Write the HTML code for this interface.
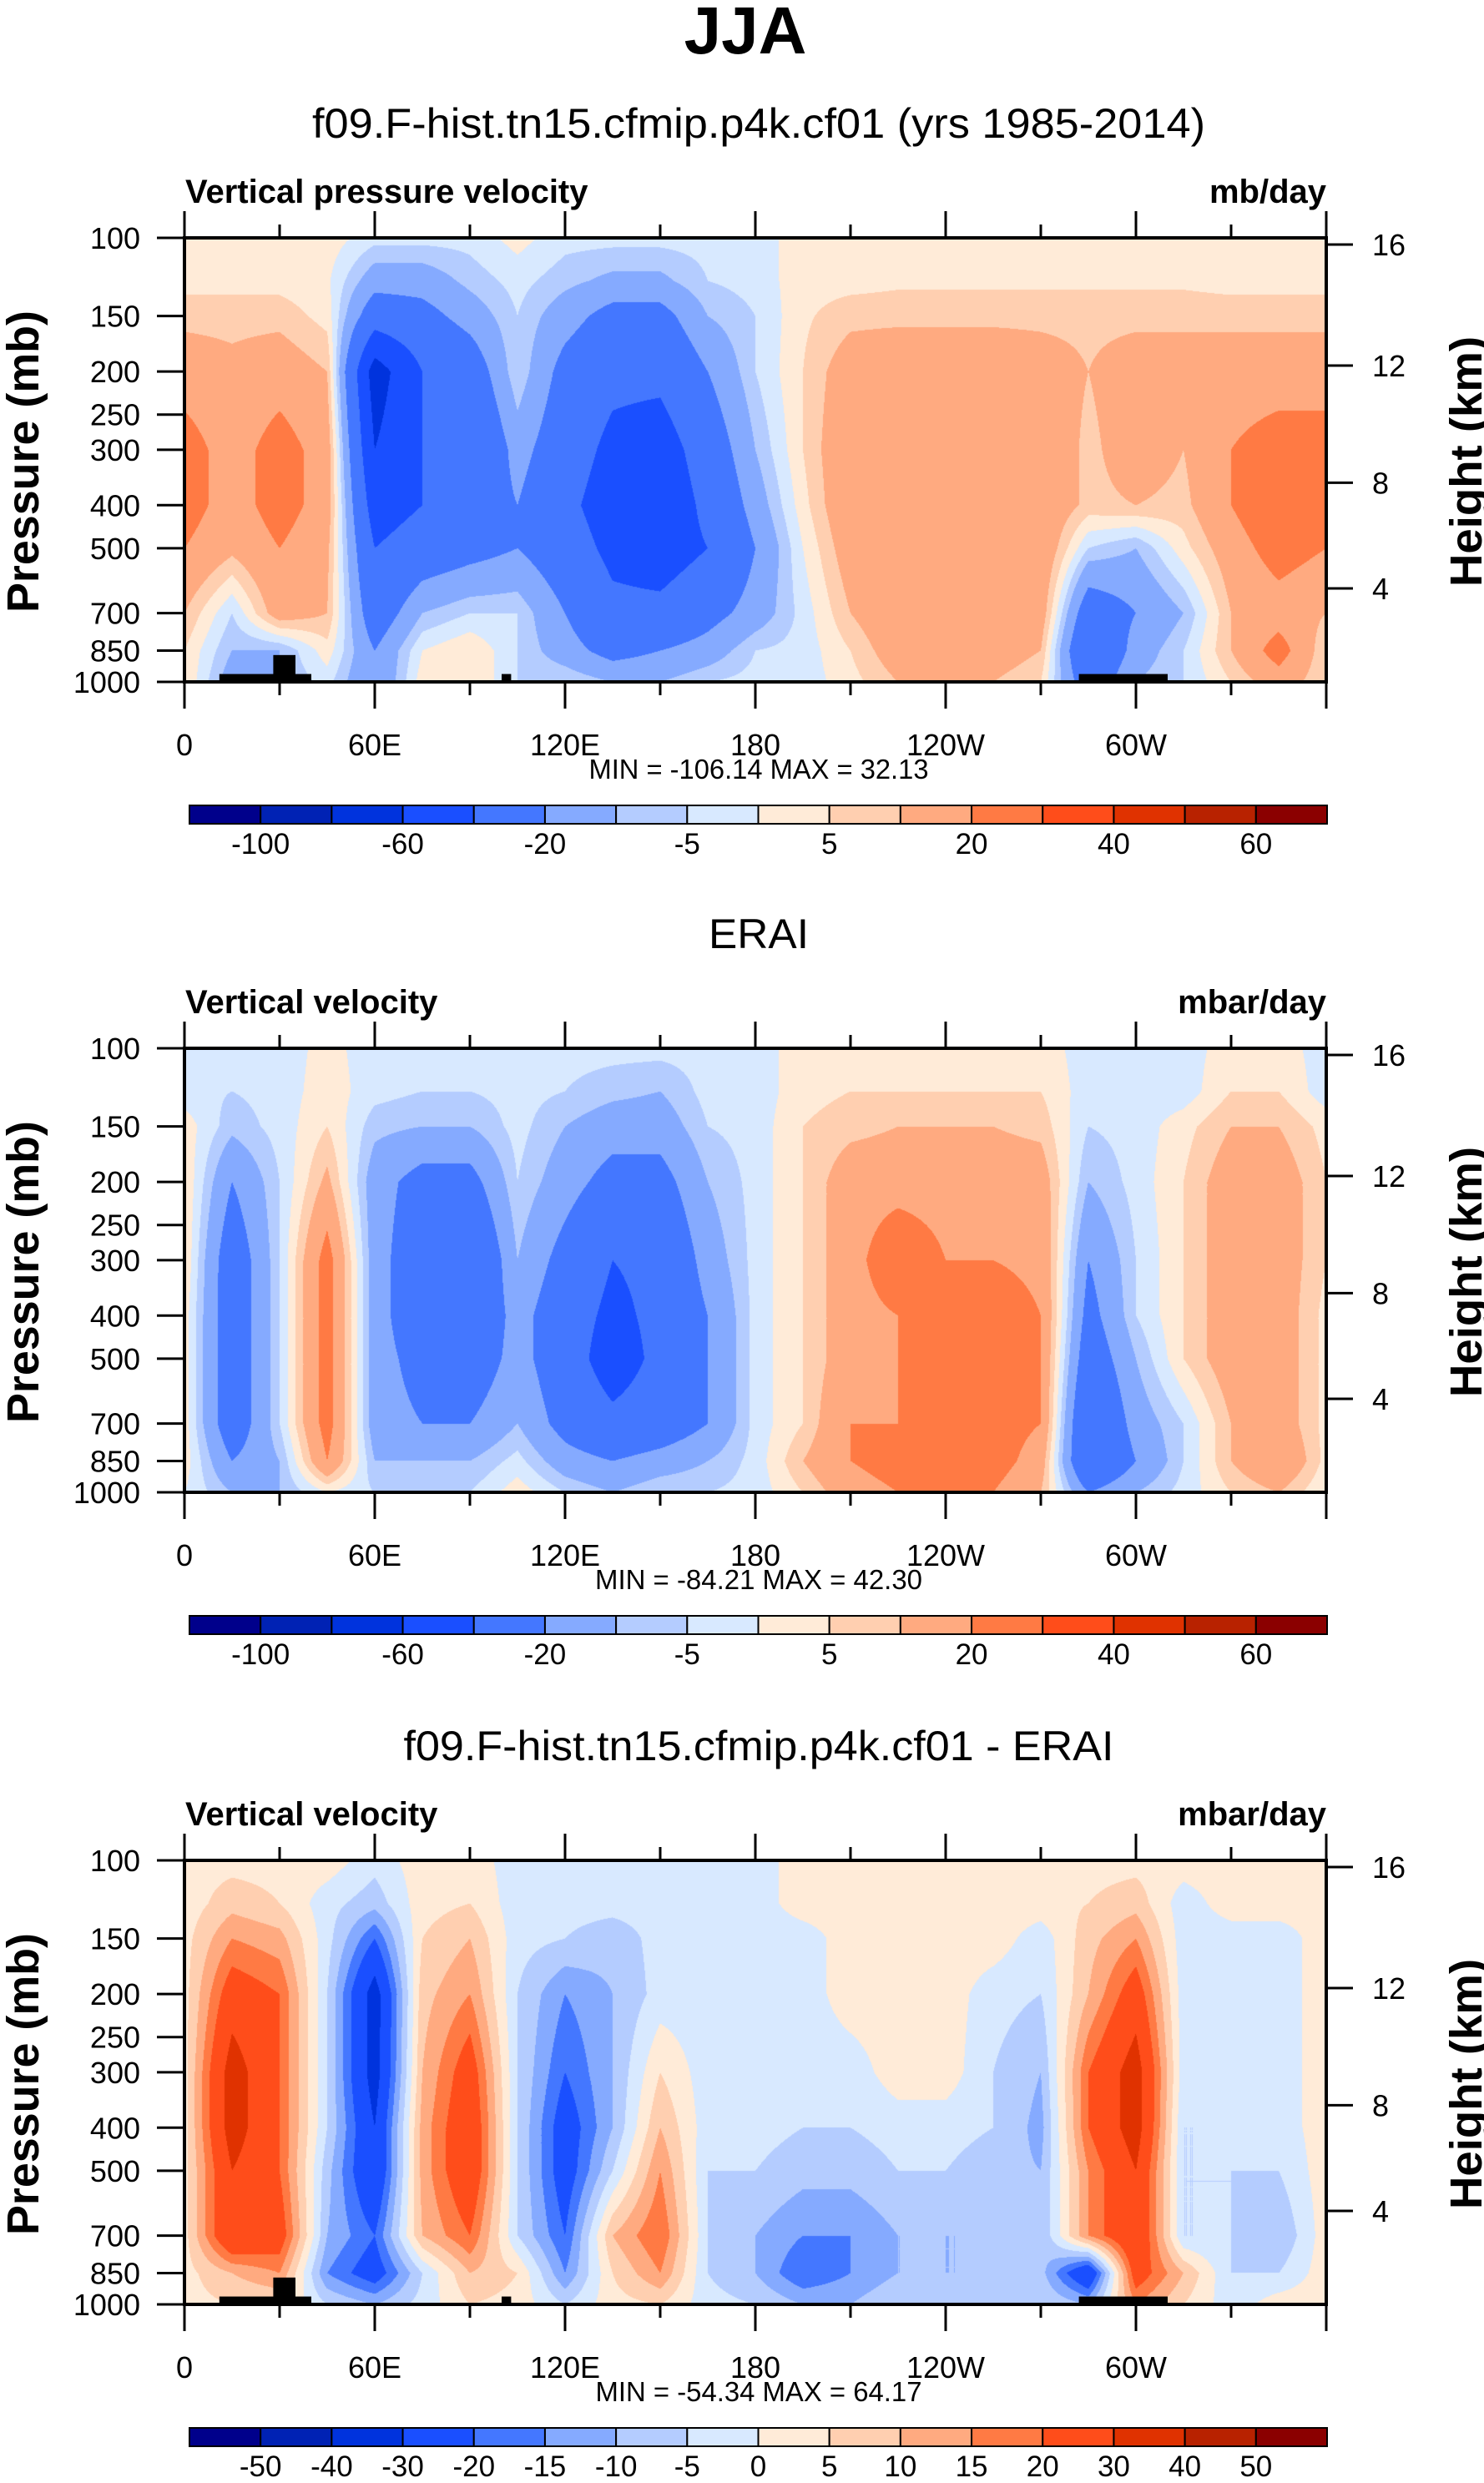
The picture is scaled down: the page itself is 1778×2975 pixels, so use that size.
<!DOCTYPE html>
<html><head><meta charset="utf-8"><style>
html,body{margin:0;padding:0;background:#fff;}
#wrap{position:relative;width:1778px;height:2975px;overflow:hidden;}
canvas{position:absolute;}
svg{position:absolute;left:0;top:0;}
text{font-family:"Liberation Sans",sans-serif;fill:#000;}
</style></head><body>
<div id="wrap">
<canvas id="c0" width="1368" height="532" style="left:221px;top:285px"></canvas>
<canvas id="c1" width="1368" height="532" style="left:221px;top:1256px"></canvas>
<canvas id="c2" width="1368" height="532" style="left:221px;top:2229px"></canvas>
<svg id="s" width="1778" height="2975" xmlns="http://www.w3.org/2000/svg">
<text x="893" y="64" text-anchor="middle" font-size="80" font-weight="bold">JJA</text>
</svg>
</div>
<script>
// ---- data ----
const lons = [0,15,30,45,60,75,90,105,120,135,150,165,180,195,210,225,240,255,270,285,300,315,330,345,360];
const levels = [100,125,150,200,300,400,500,700,850,1000];
const xTickLabels = ["0","60E","120E","180","120W","60W"];
const xTickLons = [0,60,120,180,240,300];
const pTicks = [100,150,200,250,300,400,500,700,850,1000];
const zTicks = [4,8,12,16];
const zTickP = [616,356,193.9,103.5];
const bounds12 = [-100,-80,-60,-40,-20,-10,-5,0,5,10,20,30,40,50,60];
const barLabels12 = ["-100","","-60","","-20","","-5","","5","","20","","40","","60"];
const bounds3 = [-50,-40,-30,-20,-15,-10,-5,0,5,10,15,20,30,40,50];
const barLabels3 = ["-50","-40","-30","-20","-15","-10","-5","0","5","10","15","20","30","40","50"];
const colors = ["#00008B","#0022B4","#0033DD","#1A4FFF","#4477FF","#85AAFF","#B4CCFF","#D8E9FF","#FFEBD8","#FFCFB0","#FFAA80","#FF7A44","#FF4D1A","#E03200","#B82200","#8B0000"];
const model = [
[3,3,3,3,-3,-3,-3,2,-3,-3,-3,-3,-2,2,3,3,3,3,3,3,3,3,3,3,3],
[3,3,3,1,-15,-15,-8,-3,-8,-12,-12,-5,-3,3,3,4,4,4,4,4,4,4,3,3,3],
[8,8,8,3,-30,-25,-15,-5,-15,-25,-25,-10,-5,4,8,8,8,8,8,8,8,8,8,8,8],
[15,12,15,10,-70,-40,-30,-5,-25,-35,-35,-20,-5,5,15,18,18,18,15,10,15,15,15,15,15],
[25,15,25,15,-60,-40,-40,-15,-30,-45,-50,-30,-10,5,18,19,19,19,18,8,15,10,20,25,25],
[25,15,25,15,-50,-40,-30,-20,-35,-50,-55,-35,-15,3,18,19,19,19,18,8,10,8,20,30,25],
[20,12,20,12,-40,-30,-25,-20,-30,-45,-50,-40,-20,0,15,19,19,19,18,-5,-10,3,15,25,20],
[10,-5,15,10,-30,-10,-5,-5,-20,-35,-35,-25,-15,-3,10,18,18,18,15,-30,-20,-10,10,15,10],
[5,-10,-10,3,-20,0,5,-5,-15,-25,-20,-15,-5,-3,5,15,15,15,10,-40,-15,-5,10,25,5],
[5,-15,-10,-3,-20,3,5,-5,-5,-10,-10,-5,-3,-3,3,10,10,10,5,-30,-10,-5,5,15,5]];
const erai = [
[-3,-3,-3,2,-3,-3,-3,-3,-3,-3,-3,-3,-3,3,3,3,3,3,3,-3,-3,-3,3,3,-3],
[-3,-5,-3,3,-3,-5,-5,-3,-5,-8,-10,-3,-3,3,5,5,5,5,5,-3,-3,-3,5,5,-3],
[3,-8,-3,5,-8,-10,-10,-3,-10,-15,-15,-5,-3,5,8,10,10,10,8,-5,-3,3,10,10,3],
[5,-20,-5,12,-15,-25,-25,-5,-15,-25,-25,-10,-3,5,15,15,15,15,15,-10,-3,5,15,15,5],
[5,-30,-5,25,-15,-30,-40,-10,-25,-40,-35,-15,-3,5,15,30,20,20,18,-20,-5,5,15,15,5],
[3,-30,-5,25,-15,-30,-35,-15,-30,-45,-35,-20,-3,5,15,20,20,25,20,-25,-5,5,15,15,3],
[3,-30,-5,25,-15,-25,-30,-15,-30,-50,-35,-20,-3,5,15,20,25,25,20,-30,-10,5,15,15,3],
[3,-30,-5,25,-15,-20,-20,-10,-25,-35,-30,-20,-3,5,20,20,25,25,20,-40,-15,-5,10,15,3],
[3,-20,-10,20,-10,-10,-10,-3,-15,-20,-15,-10,-3,10,20,25,25,25,15,-40,-20,-5,10,20,3],
[0,-10,-10,0,-5,-5,-5,3,-5,-10,-5,-5,-3,5,15,20,20,20,10,-20,-10,-3,5,10,0]];
const diff = [
[3,3,3,3,-3,3,3,-3,-3,-3,-3,-3,-3,3,3,3,3,3,3,3,3,3,3,3,3],
[2,8,5,-3,-8,3,5,-3,-3,-3,-3,-3,-3,3,3,3,3,3,3,5,8,-3,3,3,2],
[3,15,12,-3,-20,5,10,-3,-5,-8,-3,-3,-3,-3,3,3,3,3,-3,8,15,-3,-3,-3,3],
[3,25,20,-5,-35,8,15,-5,-15,-10,-3,-3,-3,-3,3,3,3,-3,-5,10,25,-3,-3,-3,3],
[3,35,20,-5,-35,10,25,-5,-20,-10,5,-3,-3,-3,-3,3,3,-5,-10,20,35,-3,-5,-3,3],
[3,35,20,-5,-30,12,28,-5,-25,-10,10,-3,-3,-5,-5,-3,-3,-5,-12,20,35,-5,-5,-3,3],
[3,30,20,-8,-30,12,28,-5,-25,-5,15,-5,-5,-8,-8,-5,-5,-8,-10,15,30,-5,-5,-5,3],
[3,30,25,-10,-20,10,20,-5,-20,10,20,-5,-10,-15,-15,-10,-10,-10,-10,15,30,-5,-5,-10,3],
[3,10,15,-15,-25,-5,10,5,-15,5,15,-5,-10,-20,-15,-10,-10,-10,-8,-30,25,10,-5,-5,3],
[3,5,5,-5,-10,-3,5,3,-5,3,5,-3,-5,-10,-10,-5,-5,-5,-5,-10,15,5,-3,3,3]];
// terrain blocks: [lonStart, lonEnd, topPressure]
const terrainLon0 = [11,28,100,282];
const terrainLon1 = [40,35,103,310];
const terrainTopP = [960,870,960,960];
const panelTitles = ["f09.F-hist.tn15.cfmip.p4k.cf01 (yrs 1985-2014)","ERAI","f09.F-hist.tn15.cfmip.p4k.cf01 - ERAI"];
const leftStrings = ["Vertical pressure velocity","Vertical velocity","Vertical velocity"];
const rightStrings = ["mb/day","mbar/day","mbar/day"];
const minMax = ["MIN = -106.14  MAX =  32.13","MIN = -84.21  MAX = 42.30","MIN = -54.34  MAX = 64.17"];

// ---- geometry ----
const X0=221, W=1368, H=532;
const offs=[0,971,1944];
const tops=[285,1256,2229];
const xs = lon => X0 + lon/360*W;
const ys = (p,t) => t + Math.log10(p/100)*H;
const NS="http://www.w3.org/2000/svg";
const svg=document.getElementById('s');
function mk(tag,attrs,txt){const e=document.createElementNS(NS,tag);for(const k in attrs)e.setAttribute(k,attrs[k]);if(txt!==undefined)e.textContent=txt;svg.appendChild(e);return e;}

function colorIdx(v,b){let i=0;while(i<b.length&&v>=b[i])i++;return i;}
function drawField(cid,data,b){
  const cv=document.getElementById(cid),ctx=cv.getContext('2d');
  const img=ctx.createImageData(W,H);
  const rgb=colors.map(c=>[parseInt(c.substr(1,2),16),parseInt(c.substr(3,2),16),parseInt(c.substr(5,2),16)]);
  const lg=levels.map(p=>Math.log10(p));
  for(let y=0;y<H;y++){
    const lp=2+(y+0.5)/H;
    let r=0;while(r<lg.length-2&&lp>lg[r+1])r++;
    let fy=(lp-lg[r])/(lg[r+1]-lg[r]);fy=Math.max(0,Math.min(1,fy));
    for(let x=0;x<W;x++){
      const lon=(x+0.5)/W*360;
      let c=Math.min(lons.length-2,Math.floor(lon/15));
      const fx=(lon-lons[c])/15;
      const v=(data[r][c]*(1-fx)+data[r][c+1]*fx)*(1-fy)+(data[r+1][c]*(1-fx)+data[r+1][c+1]*fx)*fy;
      const k=rgb[colorIdx(v,b)],o=(y*W+x)*4;
      img.data[o]=k[0];img.data[o+1]=k[1];img.data[o+2]=k[2];img.data[o+3]=255;
    }
  }
  ctx.putImageData(img,0,0);
}
drawField('c0',model,bounds12);
drawField('c1',erai,bounds12);
drawField('c2',diff,bounds3);

for(let pi=0;pi<3;pi++){
  const o=offs[pi],T=tops[pi],B=T+H;
  let e;
  e=mk('text',{x:909,y:165+o,'text-anchor':'middle','font-size':50,textLength:pi==1?120:(pi==0?1070:851),lengthAdjust:'spacingAndGlyphs'},panelTitles[pi]);
  
  
  e=mk('text',{x:222,y:243+o,'font-size':40,'font-weight':'bold'},leftStrings[pi]);
  
  
  e=mk('text',{x:1589,y:243+o,'text-anchor':'end','font-size':40,'font-weight':'bold'},rightStrings[pi]);
  
  
  for(let i=0;i<terrainLon0.length;i++){
    if(pi==1)break;
    e=mk('rect',{x:xs(terrainLon0[i]),y:ys(terrainTopP[i],T),width:xs(terrainLon1[i])-xs(terrainLon0[i]),height:B-ys(terrainTopP[i],T),fill:'#000'});
    
    
  }
  e=mk('rect',{x:X0,y:T,width:W,height:H,fill:'none',stroke:'#000','stroke-width':4});
  
  
  for(let lon=0;lon<=360;lon+=30){
    const major=lon%60==0,len=major?32:16,x=xs(lon);
    e=mk('line',{x1:x,x2:x,y1:T,y2:T-len,stroke:'#000','stroke-width':3});
    
    
    e=mk('line',{x1:x,x2:x,y1:B,y2:B+len,stroke:'#000','stroke-width':3});
    
    
  }
  for(let i=0;i<xTickLabels.length;i++){
    e=mk('text',{x:xs(xTickLons[i]),y:B+88,'text-anchor':'middle','font-size':36},xTickLabels[i]);
    
    
  }
  for(const p of pTicks){
    const y=ys(p,T);
    e=mk('line',{x1:X0-33,x2:X0,y1:y,y2:y,stroke:'#000','stroke-width':3});
    
    
    e=mk('text',{x:168,y:y+13,'text-anchor':'end','font-size':36},String(p));
    
    
  }
  for(let i=0;i<zTicks.length;i++){
    const y=ys(zTickP[i],T);
    e=mk('line',{x1:X0+W,x2:X0+W+32,y1:y,y2:y,stroke:'#000','stroke-width':3});
    
    
    e=mk('text',{x:1644,y:y+13,'font-size':36},String(zTicks[i]));
    
    
  }
  e=mk('text',{x:0,y:0,'text-anchor':'middle','font-size':54,'font-weight':'bold',transform:`translate(46,${553+o}) rotate(-90)`,textLength:362,lengthAdjust:'spacingAndGlyphs'},'Pressure (mb)');
  
  
  e=mk('text',{x:0,y:0,'text-anchor':'middle','font-size':54,'font-weight':'bold',transform:`translate(1775,${553+o}) rotate(-90)`,textLength:300,lengthAdjust:'spacingAndGlyphs'},'Height (km)');
  
  
  e=mk('text',{x:909,y:933+o,'text-anchor':'middle','font-size':33,textLength:pi==1?392:(pi==0?407:391),lengthAdjust:'spacingAndGlyphs'},minMax[pi]);
  
  
  const bw=(1590-227)/16, cy=965+o;
  for(let i=0;i<16;i++){
    e=mk('rect',{x:227+i*bw,y:cy,width:bw,height:22,fill:colors[i],stroke:'#000','stroke-width':2});
    
    
  }
  const labs=pi==2?barLabels3:barLabels12;
  for(let i=0;i<labs.length;i++){
    if(!labs[i])continue;
    e=mk('text',{x:227+(i+1)*bw,y:1023+o,'text-anchor':'middle','font-size':35},labs[i]);
    
    
  }
}
</script>
</body></html>
